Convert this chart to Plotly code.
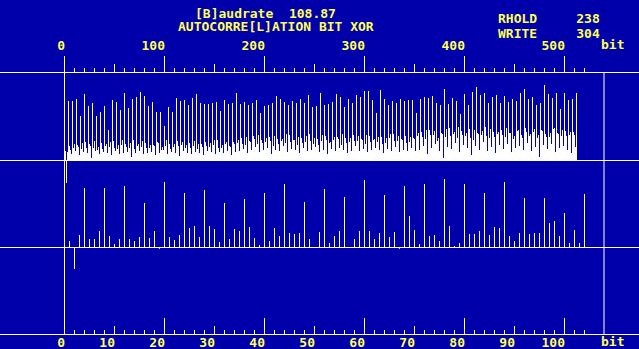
import plotly.graph_objects as go

# ---------------- data ----------------
BAUDRATE = "108.87"
RHOLD = 238
WRITE = 304
TITLE1 = "[B]audrate"
TITLE2 = "AUTOCORRE[L]ATION BIT XOR"

# top panel: sampled bit stream, 4 columns per period (a, b, dip, spike)
spike = [59, 59, 61, 44, 66, 54, 57, 44, 48, 54, 30, 60, 58, 50, 67, 52, 61, 63, 68, 64, 54, 58, 48, 48, 34, 53, 48, 62, 59, 60, 55, 62, 66, 57, 56, 56, 57, 58, 49, 60, 56, 57, 67,
         56, 58, 55, 57, 60, 47, 54, 55, 57, 64, 61, 58, 55, 59, 57, 61, 57, 65, 53, 54, 67, 55, 56, 58, 66, 63, 53, 61, 57, 65, 63, 69, 69, 60, 47, 70, 61, 55, 59, 57, 61, 59, 60, 60, 47,
         61, 63, 62, 64, 57, 55, 71, 56, 62, 59, 46, 66, 55, 68, 73, 65, 67, 57, 63, 65, 57, 64, 58, 61, 59, 67, 71, 61, 63, 55, 57, 75, 66, 62, 67, 51, 67, 60, 61, 67]
fill_a = [9, 14, 12, 15, 11, 18, 16, 12, 10, 17, 14, 13, 19, 11, 15, 16, 12, 20, 14, 13, 17, 12, 15, 18, 10, 14, 16, 13, 19, 15, 12, 17, 14, 11, 16, 18, 13, 15, 20, 12, 16, 14, 18,
          17, 22, 15, 19, 24, 16, 20, 18, 23, 14, 21, 19, 17, 25, 20, 15, 22, 18, 26, 16, 21, 19, 24, 17, 20, 23, 15, 22, 18, 25, 19, 21, 16, 24, 20, 18, 23, 17, 22, 26, 19, 21, 24, 18, 22,
          24, 28, 21, 30, 25, 19, 27, 23, 32, 26, 22, 29, 24, 31, 20, 27, 25, 33, 22, 28, 26, 30, 23, 27, 21, 29, 25, 32, 24, 28, 22, 30, 26, 23, 31, 27, 24, 29, 25, 28]
fill_b = [-23, 10, 16, 13, 17, 12, 14, 19, 13, 11, 16, 18, 12, 15, 20, 13, 17, 11, 16, 19, 12, 15, 14, 17, 13, 20, 11, 16, 14, 18, 15, 12, 19, 16, 13, 14, 17, 20, 12, 15, 18, 13, 16,
          20, 16, 23, 18, 21, 25, 17, 22, 19, 24, 16, 21, 26, 18, 20, 23, 17, 24, 19, 22, 15, 25, 20, 18, 23, 21, 26, 17, 22, 19, 24, 20, 25, 18, 21, 23, 16, 22, 26, 19, 24, 20, 17, 23, 21,
          27, 23, 30, 25, 29, 22, 26, 31, 24, 28, 33, 25, 27, 22, 30, 26, 29, 24, 31, 23, 28, 25, 32, 27, 24, 30, 22, 28, 26, 31, 25, 29, 23, 27, 32, 26, 30, 24, 28, 25]
dip = [8, 6, 9, 5, 8, 7, 2, 9, 6, 8, 7, 5, 9, 6, 7, 8, 3, 7, 9, 6, 7, 8, 5, 7, 10, 6, 8, 7, 4, 9, 7, 6, 8, 7, 5, 9, 8, 6, 8, 7, 9, 5, 8,
       9, 11, 7, 10, 13, 8, 10, 12, 6, 10, 9, 14, 8, 11, 10, 7, 12, 9, 10, 13, 8, 10, 6, 11, 9, 12, 10, 7, 9, 14, 9, 11, 8, 10, 12, 10, 7, 11, 9, 13, 8, 10, 9, 12, 9,
       10, 14, 6, 12, 16, 9, 2, 13, 11, 17, 8, 15, 12, 5, 14, 10, 18, 9, 13, 7, 15, 11, 16, 8, 12, 14, 10, 17, 9, 13, 3, 15, 11, 16, 8, 12, 14, 10, 7, 13]

# middle panel: autocorrelation for lag 0..104
acf = [87, 6, -22, 12, 59, 8, 8, 16, 59, 11, 3, 8, 61, 8, 6, 10, 44, 9, 16, -2,
       65, 10, 7, 12, 54, 19, 21, 10, 57, 21, 18, 5, 44, 8, 18, 16, 48, 20, 9, 2,
       54, 6, 19, 11, 63, 14, 13, 14, 45, 8, 0, 15, 58, 4, 11, 16, 50, 0, 8, 16,
       67, 16, 8, 14, 52, 10, 15, -2, 61, 31, 17, 3, 63, 11, 12, 6, 68, 21, 1, 4,
       63, 13, 13, 16, 54, 12, 20, 19, 65, 11, 6, 14, 49, 13, 14, 14, 49, 24, 26, 11,
       34, 4, 17, 4, 53]

bit_major = [0, 100, 200, 300, 400, 500]
bit_mid = [50, 150, 250, 350, 450]
bit_minor = list(range(10, 530, 10))
lag_major = [0, 20, 40, 60, 80, 100]
lag_mid = [10, 30, 50, 70, 90]
lag_minor = list(range(2, 106, 2))
unit_label = "bit"

# --------------- build series ---------------
bit_vals = []
for a, b, d, s in zip(fill_a, fill_b, dip, spike):
    bit_vals += [a, b, d, s]
bit_x = list(range(1, len(bit_vals) + 1))
lag_x = list(range(len(acf)))

# --------------- geometry / style ---------------
W, H = 639, 349
BG = "#0000AA"
FG = "#FFFFFF"
TXT = "#FFFF55"
FONT = dict(family="DejaVu Sans Mono", size=13, color=TXT, weight="bold")
ORIGIN_PX = 64          # pixel column of bit 0 / lag 0
PX_PER_LAG = 5
ROWS = [73, 160, 247, 334]
HALF = 87
RIGHT_PX = 604


def py(p):
    return 1 - p / H


fig = go.Figure()
fig.add_trace(go.Bar(x=bit_x, y=bit_vals, width=1, offset=0,
                     marker=dict(color=FG, line=dict(width=0)),
                     xaxis="x", yaxis="y", showlegend=False, hoverinfo="skip"))
fig.add_trace(go.Bar(x=lag_x, y=acf, width=1 / PX_PER_LAG, offset=0,
                     marker=dict(color=FG, line=dict(width=0)),
                     xaxis="x2", yaxis="y2", showlegend=False, hoverinfo="skip"))
# empty helpers so overlay axes are drawn
fig.add_trace(go.Scatter(x=[None], y=[None], xaxis="x3", yaxis="y", showlegend=False, hoverinfo="skip"))
fig.add_trace(go.Scatter(x=[None], y=[None], xaxis="x4", yaxis="y2", showlegend=False, hoverinfo="skip"))

bit_range = [-ORIGIN_PX, W - ORIGIN_PX]
lag_range = [-ORIGIN_PX / PX_PER_LAG, (W - ORIGIN_PX) / PX_PER_LAG]

common_x = dict(showgrid=False, tickcolor=FG, tickwidth=1, tickfont=FONT,
                ticklabelposition="outside left", ticklabelshift=2, fixedrange=True,
                showline=True, linecolor=FG, linewidth=1, automargin=False)

fig.update_layout(
    width=W, height=H, autosize=False,
    margin=dict(l=0, r=0, t=0, b=0, pad=0, autoexpand=False),
    paper_bgcolor=BG, plot_bgcolor="rgba(0,0,0,0)",
    bargap=0, barmode="overlay",
    xaxis=dict(domain=[0, 1], range=bit_range, anchor="y", side="top",
               zeroline=True, zerolinecolor=FG, zerolinewidth=1,
               ticks="outside", ticklen=16, tickmode="array",
               tickvals=bit_major, ticktext=[str(v) for v in bit_major],
               ticklabelstandoff=17,
               minor=dict(tickmode="array", tickvals=bit_minor, ticks="outside",
                          ticklen=4, tickcolor=FG, tickwidth=1),
               **common_x),
    xaxis3=dict(range=bit_range, anchor="y", side="top", overlaying="x",
                zeroline=False, ticks="outside", ticklen=8,
                tickmode="array", tickvals=bit_mid, showticklabels=False,
                **common_x),
    yaxis=dict(domain=[py(ROWS[2]), py(ROWS[0])], range=[-HALF, HALF],
               showgrid=False, showticklabels=False, ticks="",
               zeroline=True, zerolinecolor=FG, zerolinewidth=1, fixedrange=True),
    xaxis2=dict(domain=[0, 1], range=lag_range, anchor="y2", side="bottom",
                zeroline=True, zerolinecolor=FG, zerolinewidth=1,
                ticks="inside", ticklen=16, tickmode="array",
                tickvals=lag_major, ticktext=[str(v) for v in lag_major],
                ticklabelstandoff=-4,
                minor=dict(tickmode="array", tickvals=lag_minor, ticks="inside",
                           ticklen=4, tickcolor=FG, tickwidth=1),
                **common_x),
    xaxis4=dict(range=lag_range, anchor="y2", side="bottom", overlaying="x2",
                zeroline=False, ticks="inside", ticklen=8,
                tickmode="array", tickvals=lag_mid, ticktext=[str(v) for v in lag_mid],
                ticklabelstandoff=-4,
                **common_x),
    yaxis2=dict(domain=[py(ROWS[3]), py(ROWS[1])], range=[-HALF, HALF],
                showgrid=False, showticklabels=False, ticks="",
                zeroline=True, zerolinecolor=FG, zerolinewidth=1, fixedrange=True),
)

# right frame line
fig.add_shape(type="line", xref="paper", yref="paper",
              x0=RIGHT_PX / W, x1=RIGHT_PX / W, y0=py(ROWS[3]), y1=py(ROWS[0]),
              line=dict(color=FG, width=1))

NB = "\u00a0"


def note(text, xpx, ypx):
    fig.add_annotation(text=text.replace(" ", NB), xref="paper", yref="paper",
                       x=xpx / W, y=py(ypx), xanchor="left", yanchor="middle",
                       showarrow=False, font=FONT)


note(f"{TITLE1}  {BAUDRATE}", 193, 13)
note(TITLE2, 176, 26.5)
note(f"RHOLD     {RHOLD}", 496, 18)
note(f"WRITE     {WRITE}", 496, 33)
note(unit_label, 599, 44.5)
note(unit_label, 599, 341)

fig.write_html("out.html")
